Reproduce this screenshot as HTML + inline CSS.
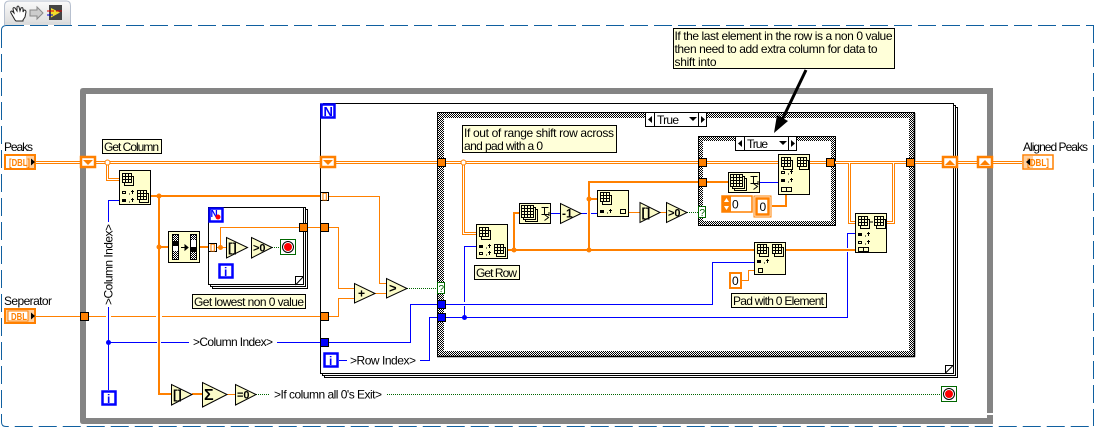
<!DOCTYPE html>
<html><head><meta charset="utf-8"><style>
html,body{margin:0;padding:0;background:#fff}
svg{display:block}
text{font-family:"Liberation Sans",sans-serif;font-size:12px;fill:#000}
.l,.k,.t,.d,.w,.u,.g,.o{fill:none}
.o{stroke:#ff8000;stroke-width:1}
.k{stroke:#ff8000;stroke-width:2}
.u{stroke:#0000ff;stroke-width:1}
.g{stroke:#006600;stroke-width:1;stroke-dasharray:1 1}
.d{stroke:#ff8000;stroke-width:3}
.w{stroke:#fff;stroke-width:1}
.n{fill:#ffffcc;stroke:#000;stroke-width:1}
.c{fill:#ffffd9;stroke:#000;stroke-width:1}
.b{fill:#fff;stroke:#0000ff;stroke-width:2.5}
.s{fill:#ff8000;stroke:#000;stroke-width:1}
.bs{fill:#0000ff;stroke:#000;stroke-width:1}
.r{fill:#fff;stroke:#ff8000;stroke-width:2.5}
.tr{fill:#fbfbc8;stroke:#000;stroke-width:1}
.m{font-weight:bold}
</style></head><body>
<svg width="1095" height="428" viewBox="0 0 1095 428" xmlns="http://www.w3.org/2000/svg">
<defs>
<pattern id="chk" width="2" height="2" patternUnits="userSpaceOnUse"><rect width="2" height="2" fill="#fff"/><rect width="1" height="1" fill="#000"/><rect x="1" y="1" width="1" height="1" fill="#000"/></pattern>
<linearGradient id="tabg" x1="0" y1="0" x2="0" y2="1"><stop offset="0" stop-color="#fafafa"/><stop offset="1" stop-color="#dcdcdc"/></linearGradient>
<g id="a"><rect x="2.5" y="3.500" width="9" height="9" fill="#ffffcc" stroke="#000"/><rect x=".5" y=".5" width="9" height="9" fill="#ffffcc" stroke="#000"/><path d="M3.500 .5v9M6.500 .5v9M.5 3.500h9M.5 6.500h9" stroke="#000" fill="none"/></g>
<g id="a3"><rect x="4.500" y="4.500" width="12" height="12" fill="#ffffcc" stroke="#000"/><rect x="2.500" y="2.500" width="12" height="12" fill="#ffffcc" stroke="#000"/><rect x=".5" y=".5" width="12" height="12" fill="#ffffcc" stroke="#000"/><path d="M3.500 .5v12M6.500 .5v12M9.500 .5v12M.5 3.500h12M.5 6.500h12M.5 9.500h12" stroke="#000" fill="none"/><path d="M20.500 2.500h7M23.500 2.500v7M20.500 9.500h7M23.500 9.500l4 3l-4 3M28 7v4" stroke="#000" fill="none"/></g>
<g id="f"><rect x="0" y="1" width="4" height="3" fill="#000"/><path d="M7 4h1M10.500 0v4M9 1.500h3" stroke="#000" fill="none"/></g>
<g id="h"><rect x=".5" y="1.500" width="3" height="2" fill="none" stroke="#000"/><path d="M7 4h1M10.500 0v4M9 1.500h3" stroke="#000" fill="none"/></g>
<g id="stop"><rect x=".5" y=".5" width="15" height="15" fill="#fff" stroke="#006600"/><circle cx="8" cy="8" r="5.500" fill="#fff" stroke="#000"/><circle cx="8" cy="8" r="4" fill="#f00"/></g>
<g id="two"><rect x=".5" y=".5" width="5" height="4" fill="none" stroke="#000"/><rect x="5.500" y=".5" width="5" height="4" fill="none" stroke="#000"/></g>
</defs>

<!-- tab -->
<path d="M4.500 25V6q0-5 5-5h57q4 0 4 5v19" fill="url(#tabg)" stroke="#b7c0cf"/>
<path d="M15 20l-4-7q-1-2 1-2l2 2-1-4q0-2 2-1l2 3-0-4q1-2 2 0l1 4 1-3q2-1 2 1l-0 3 1-2q2 0 2 2l-1 5-2 3v1h-7z" fill="#fff" stroke="#222"/>
<path d="M30 10h7v-3l6 6-6 6v-3h-7z" fill="#ccc" stroke="#888"/>
<rect x="49" y="5" width="13" height="15" fill="#444"/><path d="M51 8l9 4.500-9 5z" fill="#f2dd2a"/><path d="M47 11h7M56 11h6" stroke="#d00"/><path d="M47 15h6" stroke="#00c"/>

<!-- outer dashed -->
<path d="M6 25.500H1094M1.500 30V422Q1.500 426.500 6 426.500H1094M1093.500 25V426M1.500 30Q1.500 26 6 25.500" fill="none" stroke="#1060a0" stroke-dasharray="18 6"/>
<rect x="5" y="22" width="65" height="3" fill="#dcdcdc"/>

<!-- while loop -->
<path d="M83 88H993V424H83Q80 424 80 421V91Q80 88 83 88ZM86 94V418H987V94Z" fill="#848484" fill-rule="evenodd"/>
<rect x="986" y="413" width="7" height="2" fill="#fff"/>

<!-- for loop -->
<path d="M323 103.500H953.500V373.500H320.500V103.500M953.500 105.500H955.500V375.500H322.500V373.500M955.500 107.500H957.500V377.500H324.500V375.500" fill="none" stroke="#000"/>
<path d="M945.500 373V365.500H953M945.500 373L953 365.500" fill="none" stroke="#000"/>

<!-- outer case -->
<path d="M437 112H915V357H437ZM444 118V351H909V118Z" fill="url(#chk)" fill-rule="evenodd"/>
<path d="M437.500 357V112.500H914.500V356.500H437.500" fill="none" stroke="#000"/>
<path d="M914.500 113V357M437 356.500H915" stroke="#000" stroke-width="1.500" fill="none"/>

<!-- inner case -->
<path d="M698 136H836V226H698ZM703 141V221H831V141Z" fill="url(#chk)" fill-rule="evenodd"/>
<rect x="698.500" y="136.500" width="137" height="89" fill="none" stroke="#000"/>

<!-- inner for loop -->
<path d="M208.500 207.500H303.500V284.500H208.500ZM303.500 207.500H305.500V286.500H210.500V284.500M305.500 209.500H307.500V288.500H212.500V286.500" fill="#fff" stroke="#000"/>
<path d="M295.500 285V276.500H303.500M295.500 285L303.500 276.500" fill="#fff" stroke="#000"/>

<!-- blue -->
<path class="u" d="M119 200.500H108.500V222M108.500 307V390M108.500 342.500H157M161 342.500H189M277 342.500H320"/>
<path class="u" d="M328 342.500H410.500V304.500H437M446 304.500H712.500V262.500H754"/>
<path class="u" d="M339 360.500H347M420 360.500H429.500V317.500H437M446 317.500H847.500V252M847.500 248V233.500H855"/>
<path class="u" d="M476 246.500H464.500V302M464.500 306V317.500"/>
<path class="u" d="M551 213.500H560M581 213.500H587M591 213.500H597"/><path class="u" d="M760 182.500H778"/>

<!-- double wires -->
<path class="d" d="M36 162.500H1022"/><path class="d" d="M107.500 162.500V179.500H119"/><path class="d" d="M463.500 162.500V233.500H476"/><path class="d" d="M835 162.500H849.500V222.500H855"/><path class="d" d="M887 222.500H893.500V162.500H906"/>
<path class="w" d="M36 162.500H1022"/><path class="w" d="M107.500 162.500V179.500H119"/><path class="w" d="M463.500 162.500V233.500H476"/><path class="w" d="M835 162.500H849.500V222.500H855"/><path class="w" d="M887 222.500H893.500V162.500H906"/>

<!-- thin orange -->
<path class="o" d="M36 316.500H106M111 316.500H156M162 316.500H320"/><path class="o" d="M328 196.500H379.500V283.500H386"/><path class="o" d="M307 227.500H320M328 227.500H338.500V288.500H354"/><path class="o" d="M328 316.500H338.500V298.500H354"/><path class="o" d="M375 293.500H386"/>
<path class="o" d="M216 247.500H226M220.500 247.500V227.500H299"/>
<path class="o" d="M629 212.500H640M660 212.500H666"/><path class="o" d="M742 280.500H748.500V270.500H754"/><path class="o" d="M227 394.500H235"/>

<!-- thick orange -->
<path class="k" d="M151 196H320M159 196V394H171M159 247H168M200 247H209"/>
<path class="k" d="M192 394H202"/>
<path class="k" d="M508 250H754M786 250H855M514 250V213H519M589 250V182H698M589 199H597M707 182H728"/>
<path class="k" d="M772 206H786V195"/>

<!-- green -->
<path class="g" d="M407 288.500H437M272 247.500H280M687 212.500H698M256 394.500H270M387 394.500H941"/>

<!-- junctions -->
<circle cx="107.500" cy="162.500" r="2.500" fill="#fff" stroke="#ff8000"/>
<circle cx="463.500" cy="162.500" r="2.500" fill="#fff" stroke="#ff8000"/>
<g fill="#ff8000"><circle cx="159" cy="196" r="2.500"/><circle cx="159" cy="247" r="2.500"/><circle cx="220.500" cy="247.500" r="2.500"/><circle cx="514" cy="250" r="2.500"/><circle cx="589" cy="250" r="2.500"/><circle cx="589" cy="199" r="2.500"/></g>
<g fill="#0000ff"><circle cx="108.500" cy="342.500" r="2.500"/><circle cx="464.500" cy="317.500" r="2.500"/></g>

<!-- terminals -->
<rect x="5" y="155" width="30" height="14" fill="#fff" stroke="#ff8000" stroke-width="2"/>
<rect x="26" y="156" width="8" height="12" fill="#ffd0a0"/>
<text x="9" y="166" class="m" style="font-size:10px;fill:#ff8000" textLength="21" lengthAdjust="spacingAndGlyphs">[DBL]</text>
<path d="M31 158.500l4 3.500-4 3.500z" fill="#000"/>
<rect x="5" y="309" width="30" height="14" fill="#ffd0a0" stroke="#ff8000" stroke-width="2"/>
<rect x="8" y="311" width="20" height="10" fill="#fff" stroke="#ff8000"/>
<text x="11" y="320" class="m" style="font-size:10px;fill:#ff8000" textLength="16" lengthAdjust="spacingAndGlyphs">DBL</text>
<path d="M31 312.500l4 3.500-4 3.500z" fill="#000"/>
<rect x="1023" y="155" width="30" height="14" fill="#fff" stroke="#ff8000" stroke-width="1.500"/>
<rect x="1024" y="156" width="9" height="12" fill="#ffd0a0"/>
<text x="1027" y="166" class="m" style="font-size:10px;fill:#ff8000" textLength="22" lengthAdjust="spacingAndGlyphs">[DBL]</text>
<path d="M1030 158.500l-4 3.500 4 3.500z" fill="#000"/>

<!-- shift registers -->
<rect class="r" x="81" y="157" width="14" height="10"/><path d="M83 160h10l-5 5z" fill="#ff8000"/>
<rect class="r" x="321" y="157" width="14" height="10"/><path d="M323 160h10l-5 5z" fill="#ff8000"/>
<rect class="r" x="943" y="157" width="14" height="10"/><path d="M945 165h10l-5-5z" fill="#ff8000"/>
<rect class="r" x="978" y="157" width="14" height="10"/><path d="M980 165h10l-5-5z" fill="#ff8000"/>

<!-- tunnels -->
<rect class="s" x="80.500" y="312.500" width="8" height="8"/>
<rect x="320.500" y="192.500" width="8" height="8" fill="#fff" stroke="#000"/><text x="322" y="199" class="m" style="font-size:8px;fill:#ff8000">[]</text>
<rect x="208.500" y="243.500" width="8" height="8" fill="#fff" stroke="#000"/><text x="210" y="250" class="m" style="font-size:8px;fill:#ff8000">[]</text>
<rect class="s" x="299.500" y="223.500" width="8" height="8"/>
<rect class="s" x="320.500" y="223.500" width="8" height="8"/>
<rect class="s" x="320.500" y="312.500" width="8" height="8"/>
<rect class="bs" x="320.500" y="338.500" width="8" height="8"/>
<rect class="s" x="437.500" y="158.500" width="8" height="8"/>
<rect class="bs" x="437.500" y="300.500" width="8" height="8"/>
<rect class="bs" x="437.500" y="313.500" width="8" height="8"/>
<rect class="s" x="906.500" y="158.500" width="8" height="8"/>
<rect class="s" x="698.500" y="158.500" width="8" height="8"/>
<rect class="s" x="698.500" y="178.500" width="8" height="8"/>
<rect class="s" x="826.500" y="158.500" width="8" height="8"/>
<rect x="437.500" y="282.500" width="7" height="11" fill="#fff" stroke="#006600"/><text x="438.500" y="292" style="font-size:10px;fill:#006600">?</text>
<rect x="698.500" y="206.500" width="7" height="11" fill="#fff" stroke="#006600"/><text x="699.500" y="216" style="font-size:10px;fill:#006600">?</text>

<!-- blue boxes -->
<rect class="b" x="321.500" y="104.500" width="13" height="13"/><text x="323.500" y="116" style="font-size:13px;font-weight:bold;fill:#0000ff">N</text>
<rect class="b" x="209.500" y="208.500" width="13" height="13"/><text x="210.500" y="217" style="font-size:10px;font-weight:bold;fill:#0000ff">N</text><circle cx="218" cy="217" r="2.500" fill="#f00"/>
<rect class="b" x="219.500" y="264.500" width="13" height="13"/><text x="224" y="276" style="font-size:12px;font-weight:bold;fill:#0000ff">i</text>
<rect class="b" x="102.500" y="391.500" width="13" height="13"/><text x="107" y="403" style="font-size:12px;font-weight:bold;fill:#0000ff">i</text>
<rect class="b" x="324.500" y="353.500" width="13" height="13"/><text x="329" y="365" style="font-size:12px;font-weight:bold;fill:#0000ff">i</text>

<!-- nodes -->
<rect class="n" x="119.500" y="170.500" width="31" height="34"/><use href="#a" x="122" y="173"/><use href="#h" x="122" y="190"/><use href="#f" x="122" y="198"/><use href="#a" x="137" y="190"/>
<rect class="n" x="168.500" y="231.500" width="31" height="31"/>
<rect x="172.500" y="234.500" width="6" height="25" fill="url(#chk)" stroke="#000"/><rect x="173" y="241" width="5" height="5" fill="#000"/><rect x="173" y="246" width="5" height="5" fill="#fff"/>
<rect x="190.500" y="234.500" width="6" height="25" fill="url(#chk)" stroke="#000"/><rect x="191" y="240" width="5" height="7" fill="#fff"/><rect x="191" y="247" width="5" height="5" fill="#000"/>
<path d="M181 247.500h6M185 245l3 2.500-3 2.500z" fill="#000" stroke="#000"/>
<rect class="n" x="476.500" y="224.500" width="31" height="34"/><use href="#a" x="479" y="227"/><use href="#f" x="479" y="244"/><use href="#h" x="479" y="251"/><use href="#a" x="494" y="244"/>
<rect class="n" x="519.500" y="203.500" width="31" height="20"/><use href="#a3" x="521" y="205"/>
<rect class="n" x="597.500" y="190.500" width="31" height="26"/><use href="#a" x="600" y="192"/><use href="#f" x="600" y="209"/><rect x="620.500" y="209.500" width="5" height="4" fill="none" stroke="#000"/>
<rect class="n" x="728.500" y="172.500" width="31" height="20"/><use href="#a3" x="730" y="174"/>
<rect class="n" x="778.500" y="154.500" width="31" height="40"/><use href="#a" x="781" y="157"/><use href="#a" x="797" y="157"/><use href="#h" x="781" y="170"/><use href="#f" x="781" y="178"/><use href="#two" x="781" y="187"/>
<rect class="n" x="754.500" y="242.500" width="31" height="32"/><use href="#a" x="757" y="244"/><use href="#a" x="772" y="244"/><use href="#f" x="757" y="259"/><rect x="758.500" y="268.500" width="4" height="4" fill="none" stroke="#000"/>
<rect class="n" x="855.500" y="213.500" width="31" height="39"/><use href="#a" x="858" y="216"/><use href="#a" x="874" y="216"/><path d="M869 222h4" stroke="#000"/><use href="#f" x="858" y="232"/><use href="#h" x="858" y="240"/><use href="#two" x="858" y="247"/>

<!-- constants -->
<rect x="722" y="196" width="30" height="16" fill="#fff" stroke="#ff8000" stroke-width="1.500"/><rect x="722" y="196" width="9" height="16" fill="#ff8000"/><path d="M724 202l2.500-4 2.500 4zM724 206l2.500 4 2.500-4z" fill="#fff"/><text x="732" y="208.500" style="font-size:12px">0</text>
<rect x="754" y="196" width="17" height="21" fill="#fff" stroke="#ff8000" stroke-width="1"/><rect x="756.500" y="198.500" width="12" height="16" fill="#fff" stroke="#ff8000" stroke-width="2.500"/><text x="759.500" y="211" style="font-size:12px">0</text>
<rect x="730" y="273" width="11" height="15" fill="#fff" stroke="#ff8000" stroke-width="2"/><text x="732" y="285" style="font-size:12px">0</text>

<!-- triangles -->
<polygon class="tr" points="226.500,237.500 226.500,258 247.500,247.500"/><text x="228" y="252" class="m" style="font-size:13px">[]</text>
<polygon class="tr" points="251.500,237.500 251.500,258 272,247.500"/><text x="253" y="251.500" class="m" style="font-size:11px">&gt;0</text>
<polygon class="tr" points="354.500,283.500 354.500,303 375,293.500"/><text x="358" y="297.500" class="m" style="font-size:12px">+</text>
<polygon class="tr" points="386.500,278.500 386.500,298 407,288.500"/><text x="389" y="292.500" class="m" style="font-size:13px">&gt;</text>
<polygon class="tr" points="560.500,203.500 560.500,223.500 581,213.500"/><text x="562" y="217.500" class="m" style="font-size:12px">-1</text>
<polygon class="tr" points="640,202.500 640,222.500 660,212.500"/><text x="641.500" y="217" class="m" style="font-size:13px">[]</text>
<polygon class="tr" points="666.500,202.500 666.500,222.500 687,212.500"/><text x="668" y="216.500" class="m" style="font-size:11px">&gt;0</text>
<polygon class="tr" points="171.500,384.500 171.500,405 192,394.500"/><text x="173" y="399" class="m" style="font-size:13px">[]</text>
<polygon class="tr" points="202.500,382.500 202.500,407 227,394.500"/><text x="204" y="400" style="font-size:16px;font-weight:bold">Σ</text>
<polygon class="tr" points="235.500,384.500 235.500,405 256,394.500"/><text x="237" y="398.500" class="m" style="font-size:11px">=0</text>

<!-- stops -->
<use href="#stop" x="280" y="239"/><use href="#stop" x="941" y="386"/>

<!-- case selectors -->
<rect x="645.500" y="112.500" width="61" height="14" fill="#fff" stroke="#000"/><path d="M654.500 113v13M698.500 113v13" stroke="#000"/><path d="M652 116v7l-4-3.500zM701 116v7l4-3.500z" fill="#000"/><path d="M689 117h8l-4 4z" fill="#000"/><text x="657" y="124" textLength="22">True</text>
<rect x="735.500" y="136.500" width="61" height="14" fill="#fff" stroke="#000"/><path d="M744.500 137v13M788.500 137v13" stroke="#000"/><path d="M742 140v7l-4-3.500zM791 140v7l4-3.500z" fill="#000"/><path d="M779 141h8l-4 4z" fill="#000"/><text x="747" y="148" textLength="21">True</text>

<!-- comments -->
<rect class="c" x="102.500" y="139.500" width="59" height="14"/><text x="104" y="151" textLength="55">Get Column</text>
<rect class="c" x="192.500" y="294.500" width="113" height="14"/><text x="194" y="306" textLength="110">Get lowest non 0 value</text>
<rect class="c" x="474.500" y="265.500" width="45" height="14"/><text x="476" y="277" textLength="41">Get Row</text>
<rect class="c" x="731.500" y="293.500" width="95" height="14"/><text x="733" y="305" textLength="91">Pad with 0 Element</text>
<rect class="c" x="462.500" y="125.500" width="154" height="27"/><text x="464" y="137" textLength="150">If out of range shift row across</text><text x="464" y="150" textLength="79">and pad with a 0</text>
<rect class="c" x="673.500" y="28.500" width="221" height="40"/><text x="674.500" y="40" textLength="218">If the last element in the row is a non 0 value</text><text x="674.500" y="53" textLength="203">then need to add extra column for data to</text><text x="674.500" y="66" textLength="42">shift into</text>

<!-- arrow -->
<path d="M806 70L782 120" stroke="#000" stroke-width="3" fill="none"/><path d="M774 133L777 115L788 121Z" fill="#000"/>

<!-- labels -->
<text x="4" y="151" textLength="29">Peaks</text>
<text x="4" y="305" textLength="48">Seperator</text>
<text x="1023" y="151" textLength="65">Aligned Peaks</text>
<text x="193" y="346" textLength="80">&gt;Column Index&gt;</text>
<text transform="translate(112.500,305) rotate(-90)" textLength="81">&gt;Column Index&gt;</text>
<text x="350" y="364.500" textLength="66">&gt;Row Index&gt;</text>
<text x="274" y="398.500" textLength="108">&gt;If column all 0's Exit&gt;</text>
</svg>
</body></html>
